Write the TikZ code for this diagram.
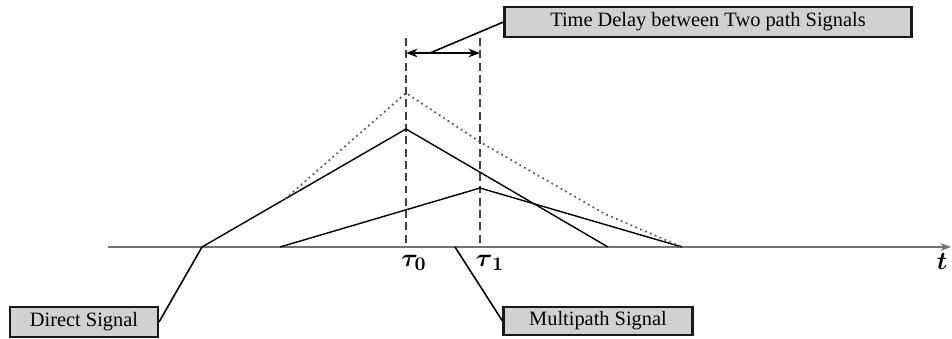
\documentclass[tikz,border=0pt]{standalone}
\usepackage{amsmath, bm}
\usepackage{fontspec}
\setmainfont{Liberation Serif}
\usetikzlibrary{arrows.meta}

\begin{document}
\begin{tikzpicture}[>=Stealth, x=0.02cm, y=-0.02cm,
  labelbox/.style={draw=black!90, line width=1.2pt, fill=black!18, inner sep=0pt,
    font=\fontsize{11.6}{13}\selectfont},
  guide/.style={dashed, dash pattern=on 4.5pt off 2.5pt, line width=0.9pt, black!75},
  timelabel/.style={font=\fontsize{15}{17}\selectfont}]
  \useasboundingbox (0,0) rectangle (952,338);
  % axis and time marks
  \coordinate (tstart) at (108,247);
  \coordinate (tend) at (951,247);
  \draw[->, black!55, line width=0.7pt] (tstart) -- (tend);
  \node[timelabel] (tlabel) at (942,261) {$\bm{t}$};
  \coordinate (t0) at (406,247);
  \coordinate (t1) at (480,247);
  \coordinate (t0top) at (406,38);
  \coordinate (t1top) at (480,38);
  \draw[guide] (t0top) -- (t0);
  \draw[guide] (t1top) -- (t1);
  \node[timelabel] (tau0) at (414,263) {$\bm{\tau}_{\bm{0}}$};
  \node[timelabel] (tau1) at (490,263) {$\bm{\tau}_{\,\bm{1}}$};
  % signals
  \coordinate (dstart) at (202,247);
  \coordinate (dpeak) at (406,129);
  \coordinate (dend) at (608,247);
  \coordinate (mstart) at (280,247);
  \coordinate (mpeak) at (480,188);
  \coordinate (mend) at (682,247);
  \draw[line width=0.8pt] (dstart) -- (dpeak) -- (dend);
  \draw[line width=0.8pt] (mstart) -- (mpeak) -- (mend);
  \draw[dotted, line width=1pt, black!65]
    (285,199) -- (406,93) -- (480,142) -- (605,214) -- (mend);
  % delay marker
  \coordinate (dl) at (406,53);
  \coordinate (dr) at (480,53);
  \coordinate (dmid) at (430,53);
  \draw[<->, line width=0.8pt] (dl) -- (dr);
  % label boxes
  \node[labelbox, minimum width=8.14cm, minimum height=0.6cm] (delay) at (708,22)
    {Time Delay between Two path Signals};
  \node[labelbox, minimum width=2.96cm, minimum height=0.6cm] (direct) at (84,322)
    {Direct Signal};
  \node[labelbox, minimum width=3.78cm, minimum height=0.56cm] (multi) at (598,321)
    {Multipath Signal};
  \coordinate (mlead) at (455,247);
  \draw[line width=0.9pt] (dmid) -- (delay.west);
  \draw[line width=0.9pt] (direct.east) -- (dstart);
  \draw[line width=0.9pt] (multi.west) -- (mlead);
\end{tikzpicture}
\end{document}
